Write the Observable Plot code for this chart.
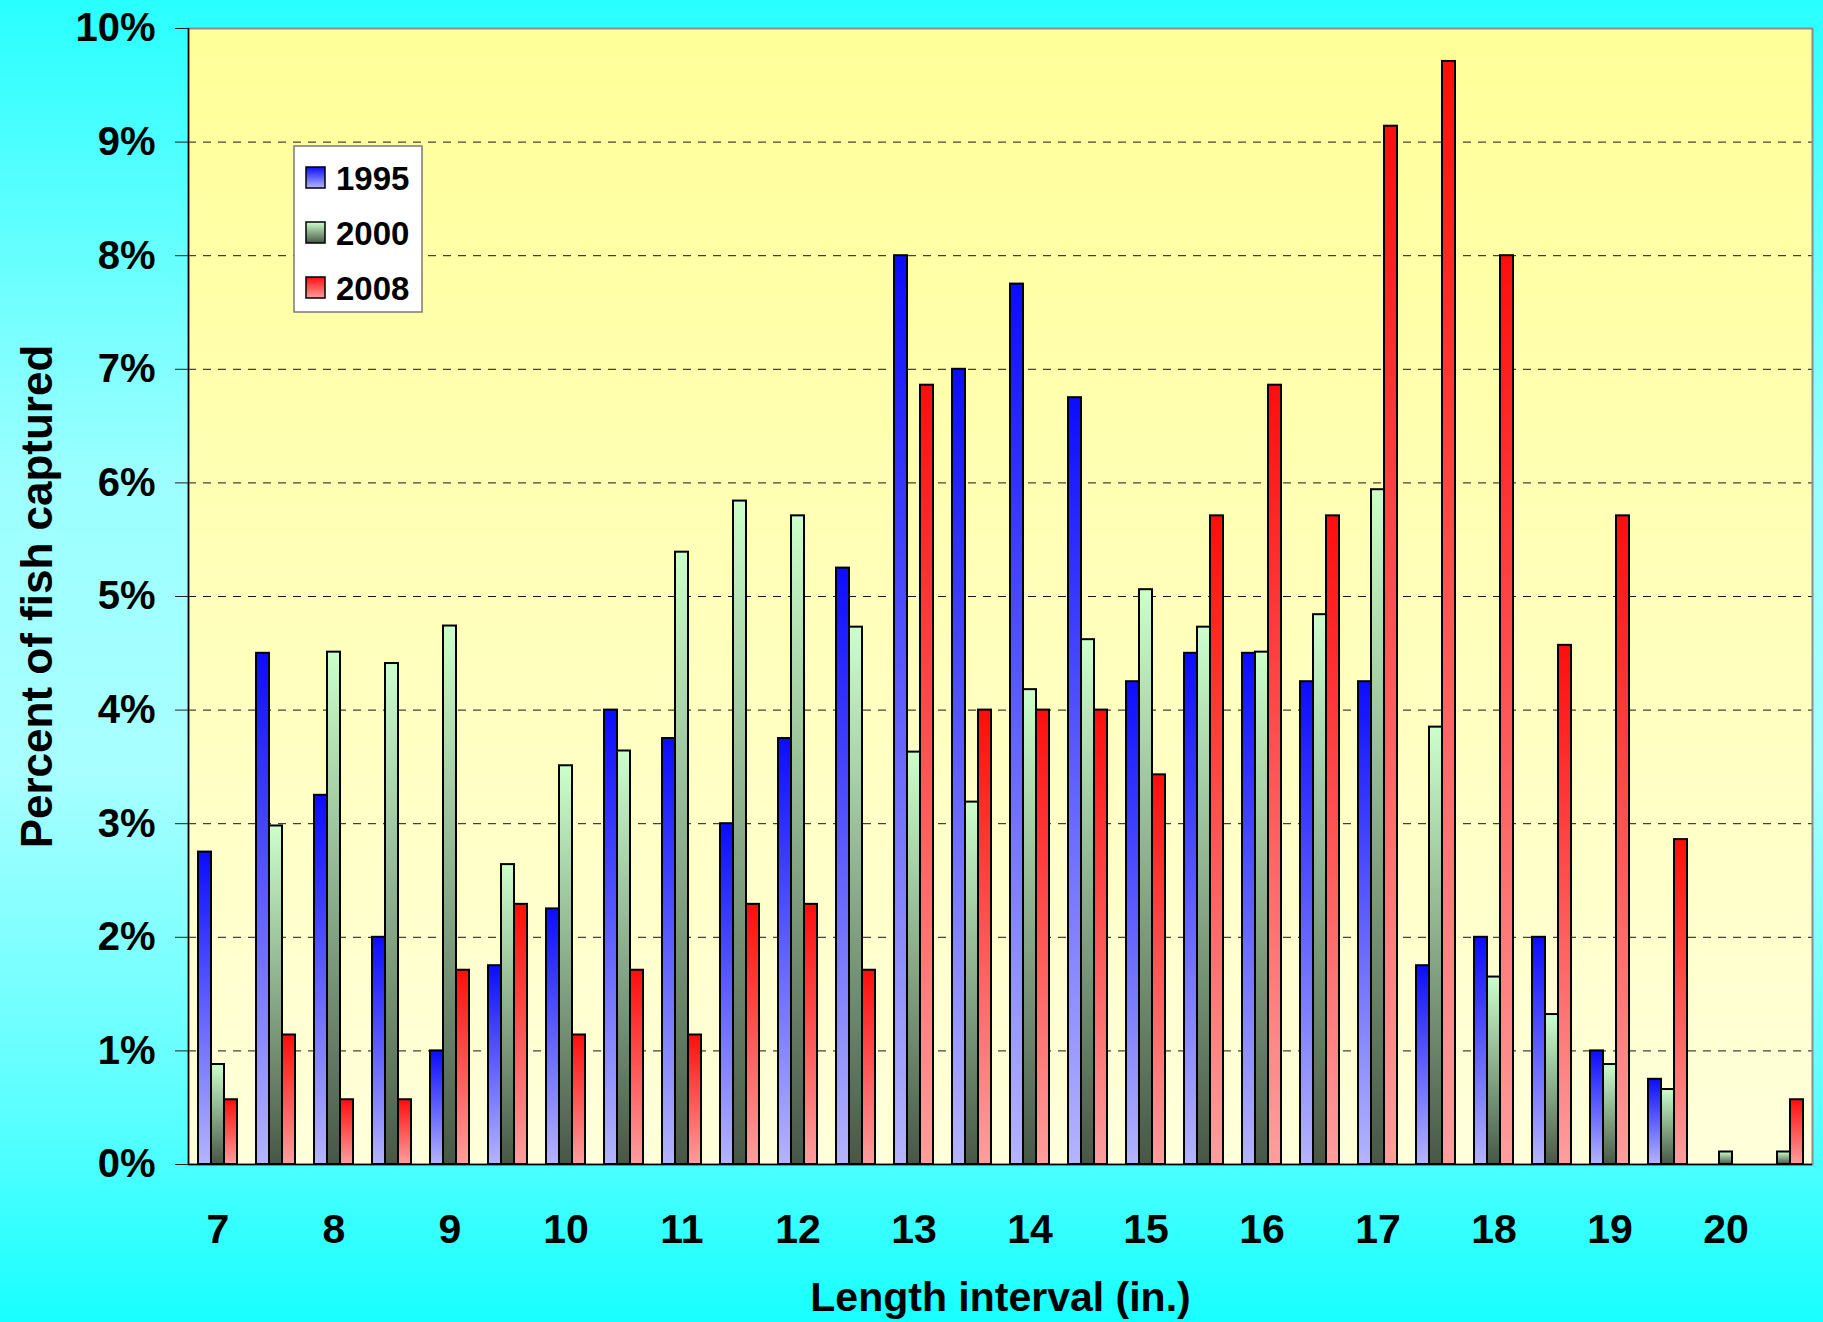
<!DOCTYPE html>
<html><head><meta charset="utf-8">
<script src="https://cdn.jsdelivr.net/npm/d3@7"></script>
<script src="https://cdn.jsdelivr.net/npm/@observablehq/plot@0.6"></script>
<style>
html,body{margin:0;padding:0;}
body{width:1823px;height:1322px;overflow:hidden;
background:linear-gradient(to bottom,#29ffff 0%,#9cffff 36%,#a8ffff 58%,#5cffff 84%,#17ffff 100%);}
#wrap{position:relative;width:1823px;height:1322px;}
#wrap > svg{position:absolute;left:0;top:0;}
</style></head><body>
<svg width="0" height="0" style="position:absolute">
<defs>
<linearGradient id="g1995" x1="0" y1="0" x2="0" y2="1"><stop offset="0" stop-color="#0c0cff"/><stop offset="1" stop-color="#b4b4ff"/></linearGradient>
<linearGradient id="g2000" x1="0" y1="0" x2="0" y2="1"><stop offset="0" stop-color="#ccffcc"/><stop offset="1" stop-color="#475746"/></linearGradient>
<linearGradient id="g2008" x1="0" y1="0" x2="0" y2="1"><stop offset="0" stop-color="#ff0d0d"/><stop offset="1" stop-color="#ff9e9e"/></linearGradient>
<linearGradient id="plotbg" x1="0" y1="0" x2="0" y2="1"><stop offset="0" stop-color="#ffff99"/><stop offset="1" stop-color="#ffffdb"/></linearGradient>
</defs></svg>
<div id="wrap"></div>
<script>
// ---- data ----
const lengths = [7, 7.5, 8, 8.5, 9, 9.5, 10, 10.5, 11, 11.5, 12, 12.5, 13, 13.5,
                 14, 14.5, 15, 15.5, 16, 16.5, 17, 17.5, 18, 18.5, 19, 19.5, 20, 20.5];
const years = ["1995", "2000", "2008"];
const v1995 = [2.75, 4.5, 3.25, 2.0, 1.0, 1.75, 2.25, 4.0, 3.75, 3.0, 3.75, 5.25, 8.0, 7.0,
               7.75, 6.75, 4.25, 4.5, 4.5, 4.25, 4.25, 1.75, 2.0, 2.0, 1.0, 0.75, 0, 0];
const v2000 = [0.88, 2.98, 4.51, 4.41, 4.74, 2.64, 3.51, 3.64, 5.39, 5.84, 5.71, 4.73, 3.63, 3.19,
               4.18, 4.62, 5.06, 4.73, 4.51, 4.84, 5.94, 3.85, 1.65, 1.32, 0.88, 0.66, 0.11, 0.11];
const v2008 = [0.57, 1.14, 0.57, 0.57, 1.71, 2.29, 1.14, 1.71, 1.14, 2.29, 2.29, 1.71, 6.86, 4.0,
               4.0, 4.0, 3.43, 5.71, 6.86, 5.71, 9.14, 9.71, 8.0, 4.57, 5.71, 2.86, 0, 0.57];
const yTicks = [0, 1, 2, 3, 4, 5, 6, 7, 8, 9, 10];
const gridTicks = [1, 2, 3, 4, 5, 6, 7, 8, 9];
const xLabelTicks = ["7","8","9","10","11","12","13","14","15","16","17","18","19","20"];
const yTitle = "Percent of fish captured";
const xTitle = "Length interval (in.)";

const series = {"1995": v1995, "2000": v2000, "2008": v2008};
const rows = [];
years.forEach(yr => series[yr].forEach((v, i) => {
  if (v > 0) rows.push({len: String(lengths[i]), year: yr, value: v});
}));

const W = 1823, H = 1322;
const M = {marginLeft: 188, marginRight: 11, marginTop: 28, marginBottom: 158};
const font = "'Liberation Sans', Arial, Helvetica, sans-serif";
const baseStyle = {background: "transparent", fontFamily: font, fontWeight: "bold", color: "black", overflow: "visible"};

const back = Plot.plot({
  width: W, height: H, ...M,
  style: baseStyle,
  x: {domain: [0, 1], axis: null},
  y: {domain: [0, 10], axis: null},
  marks: [
    Plot.frame({fill: "url(#plotbg)"}),
    Plot.ruleY(gridTicks, {stroke: "#151515", strokeWidth: 1, strokeDasharray: "8,7"}),
    Plot.frame({stroke: "#8c8c8c", strokeWidth: 2}),
    Plot.ruleX([0], {stroke: "#000", strokeWidth: 1.5}),
    Plot.ruleY([0], {stroke: "#000", strokeWidth: 1.5}),
    Plot.axisY(yTicks, {tickSize: 13, tickPadding: 20, tickFormat: d => d + "%",
      fontSize: 40, fontWeight: "bold", stroke: "#222", label: null}),
    Plot.text([yTitle], {text: d => d, frameAnchor: "left", textAnchor: "middle", rotate: -90, dx: -137,
      lineAnchor: "bottom", fontSize: 44, fontWeight: "bold", fill: "black"}),
    Plot.text([xTitle], {text: d => d, frameAnchor: "bottom", textAnchor: "middle", lineAnchor: "bottom", dy: 146,
      fontSize: 41, fontWeight: "bold", fill: "black"})
  ]
});

const front = Plot.plot({
  width: W, height: H, ...M,
  style: baseStyle,
  fx: {domain: lengths.map(String), paddingInner: 1/3, paddingOuter: 1/6, axis: null},
  x: {domain: years, padding: 0, axis: null},
  y: {domain: [0, 10], axis: null},
  color: {domain: years, range: years.map(y => `url(#g${y})`)},
  marks: [
    Plot.barY(rows, {fx: "len", x: "year", y: "value", fill: "year", stroke: "black", strokeWidth: 2}),
    Plot.axisFx({anchor: "bottom", ticks: xLabelTicks, tickSize: 0, tickPadding: 49,
      fontSize: 41, fontWeight: "bold", label: null})
  ]
});

// legend
const leg = d3.create("svg").attr("width", W).attr("height", H)
  .style("font-family", font).style("font-weight", "bold");
leg.append("rect").attr("x", 294).attr("y", 146).attr("width", 128).attr("height", 166)
  .attr("fill", "white").attr("stroke", "#7a7a7a").attr("stroke-width", 1.5);
years.forEach((yr, i) => {
  leg.append("rect").attr("x", 306).attr("y", 167 + i * 55).attr("width", 19).attr("height", 21)
    .attr("fill", `url(#g${yr})`).attr("stroke", "black").attr("stroke-width", 1.5);
  leg.append("text").attr("x", 336).attr("y", 190 + i * 55).attr("font-size", 33)
    .attr("fill", "black").text(yr);
});

const wrap = document.getElementById("wrap");
wrap.appendChild(back);
wrap.appendChild(front);
wrap.appendChild(leg.node());
</script>
</body></html>
